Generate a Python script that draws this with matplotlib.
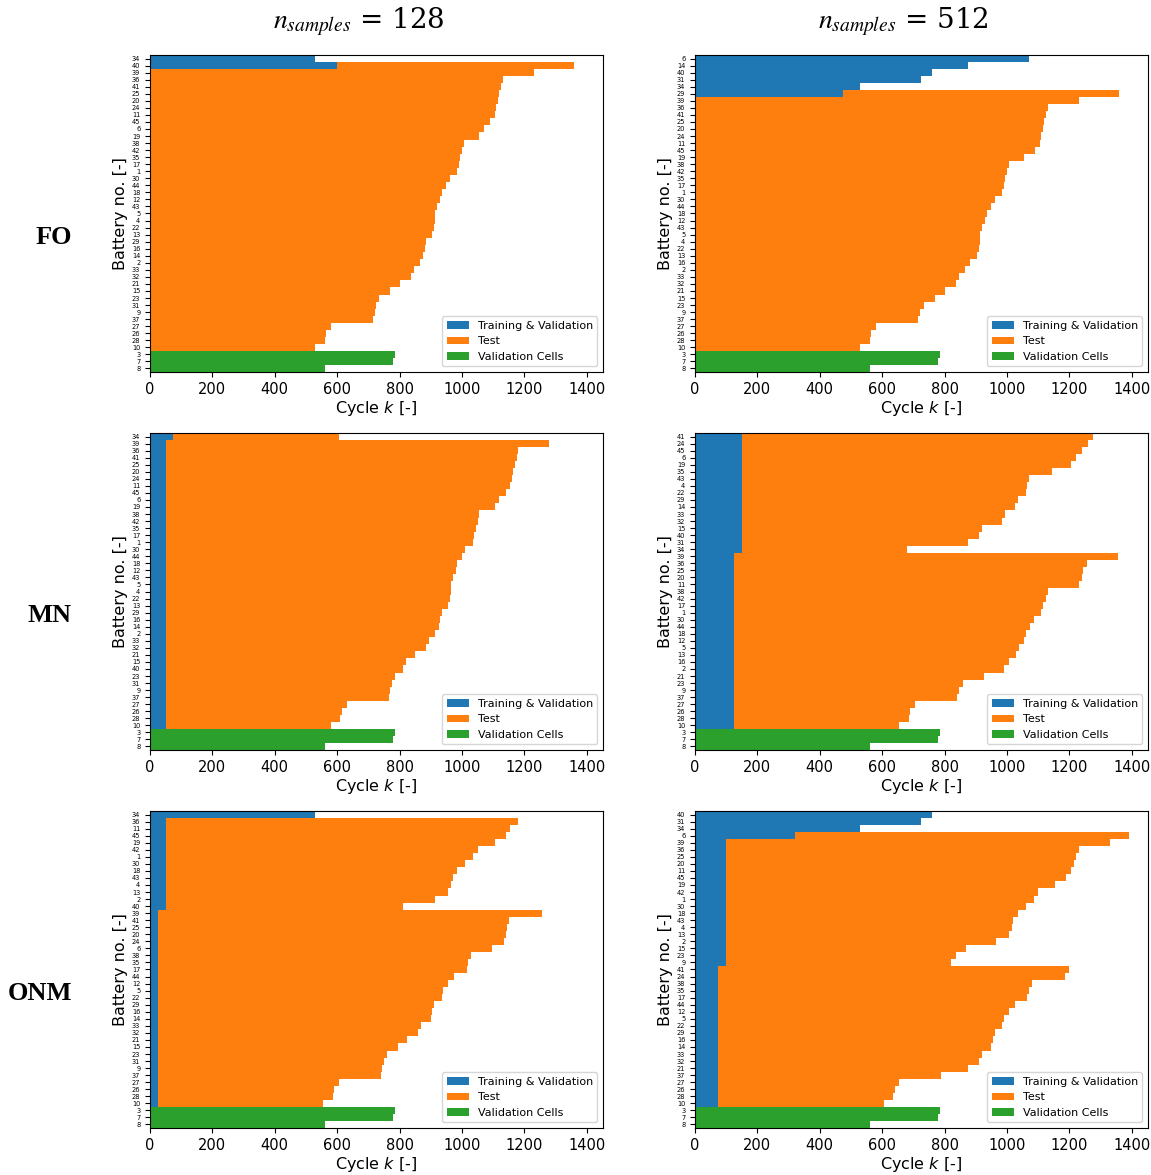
import matplotlib
matplotlib.use("Agg")
import matplotlib.pyplot as plt

# end-of-life cycle per battery, index = battery no. - 1
eol_cycles = [985, 865, 785, 915, 915, 1070, 780, 560, 720, 530,
              1105, 930, 905, 875, 770, 880, 990, 935, 1055, 1115,
              800, 910, 735, 1110, 1120, 565, 580, 560, 885, 960,
              725, 835, 845, 530, 995, 1130, 715, 1005, 1230, 760,
              1125, 1000, 920, 950, 1090]

validation_cells = [3, 7, 8]

# training cells (whole life used) and test cells grouped by start cycle
fo128_train = [34]
fo128_test = [(600, [40]),
              (0, [39, 36, 41, 25, 20, 24, 11, 45, 6, 19, 38, 42, 35, 17, 1, 30, 44, 18, 12, 43,
                   5, 4, 22, 13, 29, 16, 14, 2, 33, 32, 21, 15, 23, 31, 9, 37, 27, 26, 28, 10])]

fo512_train = [6, 14, 40, 31, 34]
fo512_test = [(475, [29]),
              (0, [39, 36, 41, 25, 20, 24, 11, 45, 19, 38, 42, 35, 17, 1, 30, 44, 18, 12, 43, 5,
                   4, 22, 13, 16, 2, 33, 32, 21, 15, 23, 9, 37, 27, 26, 28, 10])]

mn128_train = []
mn128_test = [(75, [34]),
              (50, [39, 36, 41, 25, 20, 24, 11, 45, 6, 19, 38, 42, 35, 17, 1, 30, 44, 18, 12, 43,
                    5, 4, 22, 13, 29, 16, 14, 2, 33, 32, 21, 15, 40, 23, 31, 9, 37, 27, 26, 28, 10])]

mn512_train = []
mn512_test = [(150, [41, 24, 45, 6, 19, 35, 43, 4, 22, 29, 14, 33, 32, 15, 40, 31, 34]),
              (125, [39, 36, 25, 20, 11, 38, 42, 17, 1, 30, 44, 18, 12, 5, 13, 16, 2, 21, 23, 9,
                     37, 27, 26, 28, 10])]

onm128_train = [34]
onm128_test = [(50, [36, 11, 45, 19, 42, 1, 30, 18, 43, 4, 13, 2, 40]),
               (25, [39, 41, 25, 20, 24, 6, 38, 35, 17, 44, 12, 5, 22, 29, 16, 14, 33, 32, 21, 15,
                     23, 31, 9, 37, 27, 26, 28, 10])]

onm512_train = [40, 31, 34]
onm512_test = [(320, [6]),
               (100, [39, 36, 25, 20, 11, 45, 19, 42, 1, 30, 18, 43, 4, 13, 2, 15, 23, 9]),
               (75, [41, 24, 38, 35, 17, 44, 12, 5, 22, 29, 16, 14, 33, 32, 21, 37, 27, 26, 28, 10])]

row_names = ["FO", "MN", "ONM"]
sample_sizes = [128, 512]
panels = [[(fo128_train, fo128_test), (fo512_train, fo512_test)],
          [(mn128_train, mn128_test), (mn512_train, mn512_test)],
          [(onm128_train, onm128_test), (onm512_train, onm512_test)]]

W, H = 1151, 1175
fig = plt.figure(figsize=(W / 100, H / 100), dpi=100)

col_left = [150, 695]
row_top = [55, 433, 811]
ax_w, ax_h = 453, 317


def draw_panel(ax, train, test):
    labels = []
    i = 0
    for cell in train:
        ax.barh(i, eol_cycles[cell - 1], height=1.0, color="tab:blue",
                label="Training & Validation" if i == 0 else None)
        labels.append(cell)
        i += 1
    first_test = True
    for start, cells in test:
        for cell in cells:
            ax.barh(i, start, height=1.0, color="tab:blue",
                    label="Training & Validation" if (not train and first_test) else None)
            ax.barh(i, eol_cycles[cell - 1], left=start, height=1.0, color="tab:orange",
                    label="Test" if first_test else None)
            first_test = False
            labels.append(cell)
            i += 1
    for j, cell in enumerate(validation_cells):
        ax.barh(i, eol_cycles[cell - 1], height=1.0, color="tab:green",
                label="Validation Cells" if j == 0 else None)
        labels.append(cell)
        i += 1
    ax.set_yticks(range(len(labels)))
    ax.set_yticklabels([str(c) for c in labels], fontsize=4.8)
    ax.set_ylim(len(labels) - 0.5, -0.5)
    ax.set_xlim(0, 1452)
    ax.set_xticks(range(0, 1401, 200))
    ax.tick_params(axis="x", labelsize=10.5)
    ax.set_xlabel("Cycle $k$ [-]", fontsize=11.5, labelpad=2)
    ax.set_ylabel("Battery no. [-]", fontsize=11.5, labelpad=3)
    ax.legend(loc="lower right", fontsize=8)


for r in range(3):
    for c in range(2):
        ax = fig.add_axes([col_left[c] / W, 1 - (row_top[r] + ax_h) / H, ax_w / W, ax_h / H])
        train, test = panels[r][c]
        draw_panel(ax, train, test)

for c, n in enumerate(sample_sizes):
    fig.text([359, 903][c] / W, 1 - 22 / H, r"$n_{samples}$ = " + str(n),
             fontsize=20, ha="center", va="center", fontfamily="DejaVu Serif",
             math_fontfamily="stix")

for r, name in enumerate(row_names):
    fig.text(72 / W, 1 - [237, 615, 993][r] / H, name, fontsize=19, fontweight="bold",
             fontfamily="Liberation Serif", ha="right", va="center")

fig.savefig("out.png", dpi=100)
